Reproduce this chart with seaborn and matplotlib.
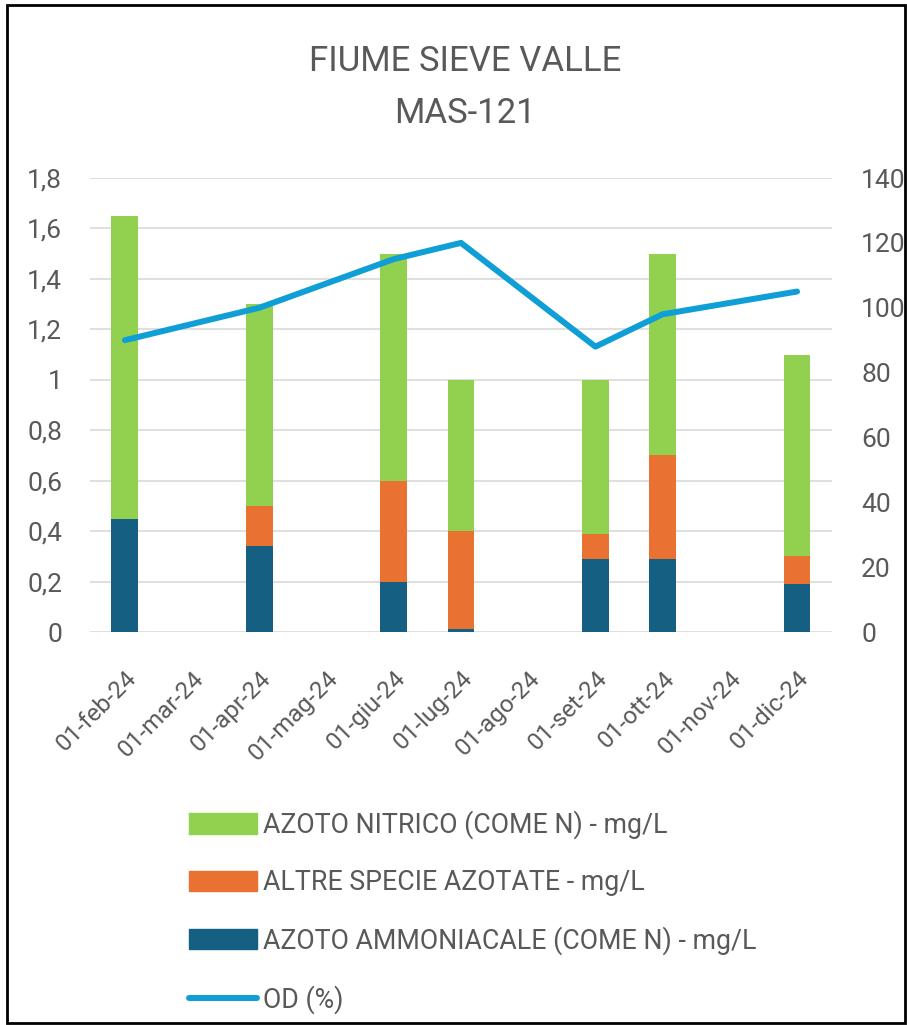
import matplotlib
matplotlib.use('Agg')
import matplotlib.pyplot as plt
import seaborn as sns
import pandas as pd
from matplotlib.patches import Patch, Rectangle
from matplotlib.lines import Line2D

# Dati (mese: 2 = febbraio ... 12 = dicembre)
mesi = [2, 4, 6, 7, 9, 10, 12]
azoto_ammoniacale = [0.45, 0.34, 0.20, 0.01, 0.29, 0.29, 0.19]
altre_specie = [0.00, 0.16, 0.40, 0.39, 0.10, 0.41, 0.11]
azoto_nitrico = [1.20, 0.80, 0.90, 0.60, 0.61, 0.80, 0.80]
od = [90, 100, 115, 120, 88, 98, 105]

tick_mesi = list(range(2, 13))
tick_etichette = ["01-feb-24", "01-mar-24", "01-apr-24", "01-mag-24", "01-giu-24",
                  "01-lug-24", "01-ago-24", "01-set-24", "01-ott-24", "01-nov-24",
                  "01-dic-24"]

lbl_nitrico = "AZOTO NITRICO (COME N) - mg/L"
lbl_altre = "ALTRE SPECIE AZOTATE - mg/L"
lbl_ammon = "AZOTO AMMONIACALE (COME N) - mg/L"
lbl_od = "OD (%)"

col_nitrico = "#92D050"
col_altre = "#E97132"
col_ammon = "#156082"
col_od = "#0F9ED5"
grigio = "#595959"

df = pd.DataFrame({"mese": mesi, "ammon": azoto_ammoniacale,
                   "altre": altre_specie, "nitrico": azoto_nitrico, "od": od})
# totali cumulati per impilare le barre
df["liv1"] = df["ammon"]
df["liv2"] = df["ammon"] + df["altre"]
df["liv3"] = df["liv2"] + df["nitrico"]

sns.set_style("white")
plt.rcParams['font.family'] = ['Roboto', 'DejaVu Sans']

fig = plt.figure(figsize=(9.07, 10.25), dpi=100)
ax = fig.add_axes([0.0992, 0.3834, 0.8181, 0.4429])

for col, colore in [("liv3", col_nitrico), ("liv2", col_altre), ("liv1", col_ammon)]:
    sns.barplot(data=df, x="mese", y=col, native_scale=True, width=0.4,
                color=colore, saturation=1, edgecolor="none", ax=ax)

ax.set_ylim(0, 1.8)
ax.set_yticks([0, 0.2, 0.4, 0.6, 0.8, 1.0, 1.2, 1.4, 1.6, 1.8])
ax.set_yticklabels(["0", "0,2", "0,4", "0,6", "0,8", "1", "1,2", "1,4", "1,6", "1,8"])
ax.set_xlim(1.48, 12.52)
ax.set_xticks(tick_mesi)
ax.set_xticklabels(tick_etichette, rotation=45, ha="right", rotation_mode="anchor")
ax.set_xlabel("")
ax.set_ylabel("")
ax.grid(axis="y", color="#D9D9D9", linewidth=1.2)
ax.set_axisbelow(True)
for s in ax.spines.values():
    s.set_visible(False)
ax.tick_params(axis="y", length=0, colors=grigio, labelsize=19, pad=20)
ax.tick_params(axis="x", length=0, colors=grigio, labelsize=17.5, pad=25)

ax2 = ax.twinx()
sns.lineplot(data=df, x="mese", y="od", color=col_od, linewidth=4.3, ax=ax2,
             solid_capstyle="round")
ax2.set_ylim(0, 140)
ax2.set_yticks(range(0, 141, 20))
ax2.set_ylabel("")
for s in ax2.spines.values():
    s.set_visible(False)
ax2.tick_params(axis="y", length=0, colors=grigio, labelsize=19, pad=21)

fig.text(0.513, 0.9146, "FIUME SIEVE VALLE\nMAS-121", ha="center", va="center",
         fontsize=25, color=grigio, linespacing=1.7)

handles = [Patch(color=col_nitrico, label=lbl_nitrico),
           Patch(color=col_altre, label=lbl_altre),
           Patch(color=col_ammon, label=lbl_ammon),
           Line2D([], [], color=col_od, linewidth=4.3, solid_capstyle="round", label=lbl_od)]
leg = fig.legend(handles=handles, loc="upper left", bbox_to_anchor=(0.194, 0.2224),
                 frameon=False, fontsize=19.3, labelcolor=grigio, borderpad=0,
                 handlelength=2.54, handleheight=0.78, handletextpad=0.22,
                 labelspacing=1.12)

fig.add_artist(Rectangle((0.008, 0.002), 0.99, 0.993, transform=fig.transFigure,
                         fill=False, edgecolor="black", linewidth=2))

plt.savefig("out.png", dpi=100)
plt.close()
